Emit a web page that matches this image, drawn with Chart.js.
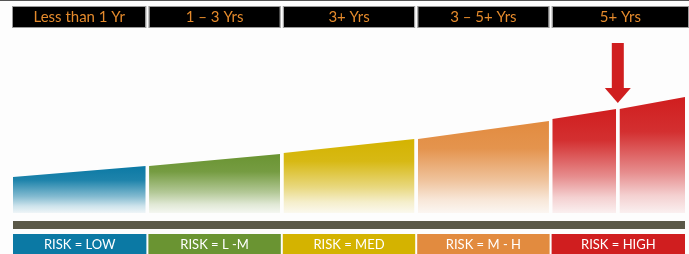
<!DOCTYPE html>
<html>
<head>
<meta charset="utf-8">
<script src="https://cdn.jsdelivr.net/npm/chart.js@4.4.1/dist/chart.umd.min.js"></script>
<style>
  html, body { margin: 0; padding: 0; background: #fdfdfd; }
  #wrap { width: 689px; height: 254px; position: relative; }
</style>
</head>
<body>
<div id="wrap"><canvas id="chartRisk"></canvas></div>
<script>
// Investment horizon vs. risk — stepped area with header / footer bands

const horizons = ['Less than 1 Yr', '1 \u2013 3 Yrs', '3+ Yrs', '3 \u2013 5+ Yrs', '5+ Yrs'];
const riskLabels = ['RISK = LOW', 'RISK = L -M', 'RISK = MED', 'RISK = M - H', 'RISK = HIGH'];

// area segments along the horizon axis (0..5), last band split in two
const segStart = [0, 1, 2, 3, 4, 4.5];
const segEnd = [1, 2, 3, 4, 4.5, 5];
const levelStart = [36, 47, 60, 74, 94, 104];
const levelEnd = [47, 59, 74, 92, 104, 116];
const segBand = [0, 1, 2, 3, 4, 4];

const arrowAt = 4.5;

/* ── palette ─────────────────────────────────────────── */
const BAND_COLORS = ['#0b79a4', '#6a9432', '#d4b300', '#e28b3f', '#d01e1f'];
const BAND_RGB = ['11,121,164', '106,148,50', '212,179,0', '226,139,63', '208,30,31'];
const HEADER_TEXT = '#e48a2c';
const RAIL = '#5a5848';
const FONT = "Lato, 'Open Sans', sans-serif";

const GAP = 0.025;

function makeGradient(chart, band, topVal) {
    const { ctx, chartArea, scales } = chart;
    if (!chartArea) return BAND_COLORS[band];
    const top = scales.y.getPixelForValue(topVal);
    const g = ctx.createLinearGradient(0, top, 0, chartArea.bottom);
    const rgb = BAND_RGB[band];
    g.addColorStop(0, `rgba(${rgb},1)`);
    g.addColorStop(0.3, `rgba(${rgb},0.92)`);
    g.addColorStop(0.65, `rgba(${rgb},0.5)`);
    g.addColorStop(0.85, `rgba(${rgb},0.2)`);
    g.addColorStop(1, `rgba(${rgb},0.06)`);
    return g;
}

const datasets = segStart.map((s, i) => {
    const e = segEnd[i];
    const x0 = s > 0 ? s + GAP / 2 : s;
    const x1 = e < 5 ? e - GAP / 2 : e;
    return {
        data: [{ x: x0, y: levelStart[i] }, { x: x1, y: levelEnd[i] }],
        borderWidth: 0,
        pointRadius: 0,
        tension: 0,
        fill: 'origin',
        backgroundColor: (c) => makeGradient(c.chart, segBand[i], levelEnd[i]),
    };
});

/* ── decorations: header, rail, footer, arrow ────────── */
const frame = {
    id: 'frame',
    beforeDraw(chart) {
        const { ctx, width, height } = chart;
        ctx.save();
        ctx.fillStyle = '#fdfdfd';
        ctx.fillRect(0, 0, width, height);
        ctx.fillStyle = '#555';
        ctx.fillRect(0, 0, width, 1);
        ctx.restore();
    },
    afterDraw(chart) {
        const { ctx, chartArea, scales } = chart;
        const x = scales.x, y = scales.y;
        ctx.save();

        // header bands
        horizons.forEach((label, i) => {
            const l = x.getPixelForValue(i) + (i > 0 ? 2 : 0);
            const r = i < horizons.length - 1 ? x.getPixelForValue(i + 1) - 2 : chart.width - 1;
            ctx.fillStyle = '#000';
            ctx.fillRect(l, 7, r - l, 20);
            ctx.strokeStyle = '#9a9a9a';
            ctx.lineWidth = 1;
            ctx.strokeRect(l - 0.5, 6.5, r - l + 1, 21);
            ctx.fillStyle = HEADER_TEXT;
            ctx.font = `15px ${FONT}`;
            ctx.textAlign = 'center';
            ctx.textBaseline = 'middle';
            ctx.fillText(label, (l + r) / 2, 17.5);
        });

        // rail
        ctx.fillStyle = RAIL;
        ctx.fillRect(chartArea.left, chartArea.bottom + 8, chartArea.right - chartArea.left, 8);

        // footer bands
        riskLabels.forEach((label, i) => {
            const l = x.getPixelForValue(i) + (i > 0 ? 1 : 0);
            const r = x.getPixelForValue(i + 1) - (i < riskLabels.length - 1 ? 1 : 0);
            ctx.fillStyle = BAND_COLORS[i];
            ctx.fillRect(l, chartArea.bottom + 21, r - l, 20);
            ctx.fillStyle = '#ffffff';
            ctx.font = `13px ${FONT}`;
            ctx.textAlign = 'center';
            ctx.textBaseline = 'middle';
            ctx.fillText(label, (l + r) / 2, chartArea.bottom + 31.5);
        });

        // arrow pointing at the split in the last band
        const ax = x.getPixelForValue(arrowAt);
        const tip = y.getPixelForValue(levelEnd[4]) - 6;
        ctx.fillStyle = BAND_COLORS[4];
        ctx.fillRect(ax - 6, 43, 12, tip - 15 - 43);
        ctx.beginPath();
        ctx.moveTo(ax - 13, tip - 15);
        ctx.lineTo(ax + 13, tip - 15);
        ctx.lineTo(ax, tip);
        ctx.closePath();
        ctx.fill();

        ctx.restore();
    }
};

new Chart(document.getElementById('chartRisk'), {
    type: 'line',
    data: { datasets },
    options: {
        responsive: true,
        maintainAspectRatio: false,
        animation: false,
        layout: { padding: { left: 13, right: 4, top: 33, bottom: 41 } },
        plugins: { legend: { display: false }, tooltip: { enabled: false } },
        scales: {
            x: { type: 'linear', min: 0, max: 5, display: false },
            y: { min: 0, max: 180, display: false }
        }
    },
    plugins: [frame]
});
</script>
</body>
</html>
